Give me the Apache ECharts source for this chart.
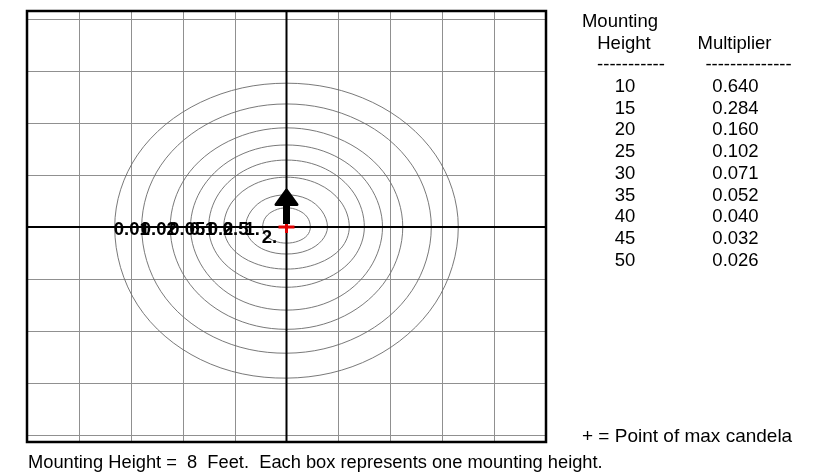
<!DOCTYPE html>
<html><head><meta charset="utf-8">
<script src="https://cdn.jsdelivr.net/npm/echarts@6/dist/echarts.min.js"></script>
<style>html,body{margin:0;padding:0;background:#fff}#c{width:827px;height:475px}</style>
</head><body><div id="c"></div>
<script>
// ---- data (axis units = mounting heights) ----
const xMin = -5, xMax = 5, yMin = -4.14, yMax = 4.16;
const xGridLines = [-4, -3, -2, -1, 1, 2, 3, 4];
const yGridLines = [-4, -3, -2, -1, 1, 2, 3, 4];
const contourLabels = ['0.01', '0.02', '0.05', '0.1', '0.2', '0.5', '1.', '2.'];
const contour001 = [[3.31,0],[2.87,1.39],[1.66,2.40],[0,2.77],[-1.66,2.40],[-2.87,1.39],[-3.31,0],[-2.87,-1.50],[-1.66,-2.55],[0,-2.91],[1.66,-2.52],[2.87,-1.46]];
const contour002 = [[2.79,0],[2.42,1.19],[1.40,2.05],[0,2.37],[-1.40,2.05],[-2.42,1.19],[-2.79,0],[-2.42,-1.24],[-1.40,-2.12],[0,-2.43],[1.40,-2.10],[2.42,-1.22]];
const contour005 = [[2.24,0],[1.94,0.96],[1.12,1.65],[0,1.91],[-1.12,1.65],[-1.94,0.96],[-2.24,0],[-1.94,-0.99],[-1.12,-1.71],[0,-1.97],[1.12,-1.71],[1.94,-0.99]];
const contour01 = [[1.85,0],[1.60,0.79],[0.93,1.37],[0,1.58],[-0.93,1.37],[-1.60,0.79],[-1.85,0],[-1.60,-0.80],[-0.93,-1.39],[0,-1.60],[0.93,-1.39],[1.60,-0.80]];
const contour02 = [[1.50,0],[1.30,0.65],[0.75,1.12],[0,1.29],[-0.75,1.12],[-1.30,0.65],[-1.50,0],[-1.30,-0.58],[-0.75,-1.00],[0,-1.16],[0.75,-1.00],[1.30,-0.58]];
const contour05 = [[1.21,0],[1.05,0.48],[0.61,0.83],[0,0.96],[-0.61,0.83],[-1.05,0.48],[-1.21,0],[-1.05,-0.41],[-0.61,-0.70],[0,-0.81],[0.61,-0.70],[1.05,-0.41]];
const contour1 = [[0.79,0],[0.68,0.31],[0.40,0.54],[0,0.62],[-0.40,0.54],[-0.68,0.31],[-0.79,0],[-0.68,-0.26],[-0.40,-0.45],[0,-0.52],[0.40,-0.45],[0.68,-0.26]];
const contour2 = [[0.46,0],[0.40,0.19],[0.23,0.32],[0,0.37],[-0.23,0.32],[-0.40,0.19],[-0.46,0],[-0.40,-0.16],[-0.23,-0.27],[0,-0.31],[0.23,-0.27],[0.40,-0.16]];
const contours = [contour001, contour002, contour005, contour01, contour02, contour05, contour1, contour2];
const maxPoint = [0, 0];
const arrowTip = [0, 0.74];
const tableHeader1 = ['Mounting', 'Height'];
const tableHeader2 = 'Multiplier';
const mountingHeights = ['10', '15', '20', '25', '30', '35', '40', '45', '50'];
const multipliers = ['0.640', '0.284', '0.160', '0.102', '0.071', '0.052', '0.040', '0.032', '0.026'];
const legendText = '+ = Point of max candela';
const footerText = 'Mounting Height =  8  Feet.  Each box represents one mounting height.';

// ---- chart ----
const FONT = '"Liberation Sans", Arial, Helvetica, sans-serif';
const chart = echarts.init(document.getElementById('c'), null, {renderer: 'canvas'});

function txt(s, x, y, size, align) {
  return {type: 'text', x: x, y: y, silent: true, style: {text: s, font: size + 'px ' + FONT, fill: '#000', align: align || 'center', verticalAlign: 'middle'}};
}
const graphics = [];
graphics.push(txt(tableHeader1[0], 620, 22, 18.5));
graphics.push(txt(tableHeader1[1], 624, 44, 18.5));
graphics.push(txt(tableHeader2, 734.5, 44, 18.5));
graphics.push(txt('-----------', 631, 65, 18.5));
graphics.push(txt('--------------', 748.5, 65, 18.5));
mountingHeights.forEach((h, i) => {
  graphics.push(txt(h, 625, 87 + i * 21.7, 18.5));
  graphics.push(txt(multipliers[i], 735.5, 87 + i * 21.7, 18.5));
});
graphics.push(txt(legendText, 582, 437, 19, 'left'));
graphics.push(txt(footerText, 28, 463, 18.3, 'left'));

const option = {
  animation: false,
  backgroundColor: '#fff',
  grid: {left: 27, right: 281, top: 11, bottom: 33, show: false},
  xAxis: {type: 'value', min: xMin, max: xMax, interval: 1, axisLine: {show: false}, axisTick: {show: false}, axisLabel: {show: false}, splitLine: {show: false}},
  yAxis: {type: 'value', min: yMin, max: yMax, axisLine: {show: false}, axisTick: {show: false}, axisLabel: {show: false}, splitLine: {show: false}},
  graphic: graphics,
  series: [
    { // grid lines
      type: 'custom', silent: true, z: 1,
      data: xGridLines.map(v => [v, 0]).concat(yGridLines.map(v => [0, v])),
      renderItem: (params, api) => {
        const i = params.dataIndex;
        let p1, p2;
        if (i < xGridLines.length) { const v = xGridLines[i]; p1 = api.coord([v, yMin]); p2 = api.coord([v, yMax]); }
        else { const v = yGridLines[i - xGridLines.length]; p1 = api.coord([xMin, v]); p2 = api.coord([xMax, v]); }
        return {type: 'line', shape: {x1: Math.round(p1[0]) + 0.5, y1: Math.round(p1[1]) + 0.5, x2: Math.round(p2[0]) + 0.5, y2: Math.round(p2[1]) + 0.5}, style: {stroke: '#909090', lineWidth: 1}};
      }
    },
    { // contours
      type: 'custom', silent: true, z: 2,
      data: contours.map(c => c[6]),
      renderItem: (params, api) => {
        const pts = contours[params.dataIndex].map(p => api.coord(p));
        return {type: 'polygon', shape: {points: pts, smooth: 0.35}, style: {fill: 'none', stroke: '#6a6a6a', lineWidth: 0.9}};
      }
    },
    { // center lines
      type: 'custom', silent: true, z: 3,
      data: [maxPoint],
      renderItem: (params, api) => {
        const a = api.coord([xMin, maxPoint[1]]), b = api.coord([xMax, maxPoint[1]]);
        const c = api.coord([maxPoint[0], yMin]), d = api.coord([maxPoint[0], yMax]);
        return {type: 'group', children: [
          {type: 'line', shape: {x1: a[0], y1: a[1], x2: b[0], y2: b[1]}, style: {stroke: '#000', lineWidth: 2}},
          {type: 'line', shape: {x1: c[0], y1: c[1], x2: d[0], y2: d[1]}, style: {stroke: '#000', lineWidth: 2}}
        ]};
      }
    },
    { // contour labels
      type: 'custom', silent: true, z: 5,
      data: contours.map(c => c[6]),
      renderItem: (params, api) => {
        const i = params.dataIndex;
        const p = api.coord(contours[i][6]);
        const dy = i === contours.length - 1 ? 11 : 3;
        return {type: 'text', x: p[0] - 1, y: p[1] + dy, style: {text: contourLabels[i], font: 'bold 18.5px ' + FONT, fill: '#000', align: 'left', verticalAlign: 'middle'}};
      }
    },
    { // max candela point + aiming arrow
      type: 'custom', silent: true, z: 6,
      data: [maxPoint],
      renderItem: (params, api) => {
        const c = api.coord(maxPoint), t = api.coord(arrowTip);
        const base = t[1] + 16;
        return {type: 'group', children: [
          {type: 'line', shape: {x1: c[0] - 8, y1: c[1], x2: c[0] + 8, y2: c[1]}, style: {stroke: '#e00000', lineWidth: 3}},
          {type: 'line', shape: {x1: c[0], y1: c[1] - 8, x2: c[0], y2: c[1] + 6}, style: {stroke: '#e00000', lineWidth: 3}},
          {type: 'rect', shape: {x: c[0] - 3.5, y: base - 1, width: 7, height: c[1] - base - 2}, style: {fill: '#000'}},
          {type: 'polygon', shape: {points: [[t[0], t[1] + 1.5], [t[0] - 10.5, base], [t[0] + 10.5, base]]}, style: {fill: '#000', stroke: '#000', lineWidth: 3, lineJoin: 'round'}}
        ]};
      }
    },
    { // frame
      type: 'custom', silent: true, z: 7,
      data: [[xMin, yMin]],
      renderItem: (params, api) => {
        const a = api.coord([xMin, yMax]), b = api.coord([xMax, yMin]);
        return {type: 'rect', shape: {x: a[0], y: a[1], width: b[0] - a[0], height: b[1] - a[1]}, style: {fill: 'none', stroke: '#000', lineWidth: 2.5}};
      }
    }
  ]
};
chart.setOption(option);
</script>
</body></html>
